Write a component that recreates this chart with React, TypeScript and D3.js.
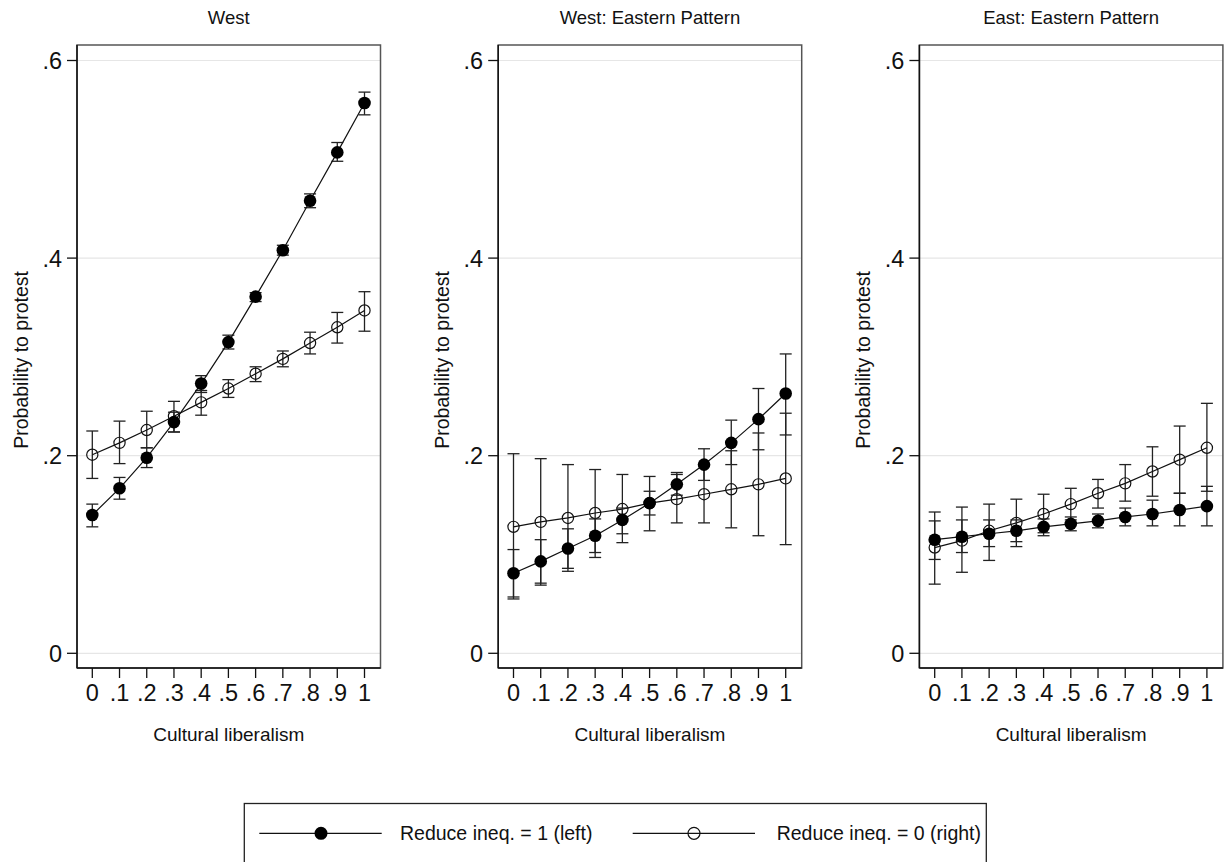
import React from "react";
import * as d3 from "d3";

const xValues = [0, 0.1, 0.2, 0.3, 0.4, 0.5, 0.6, 0.7, 0.8, 0.9, 1];
const xTickLabels = ["0", ".1", ".2", ".3", ".4", ".5", ".6", ".7", ".8", ".9", "1"];
const yTicks = [0, 0.2, 0.4, 0.6];
const yTickLabels = ["0", ".2", ".4", ".6"];
const panelTitles = ["West", "West: Eastern Pattern", "East: Eastern Pattern"];
const seriesNames = ["Reduce ineq. = 1 (left)", "Reduce ineq. = 0 (right)"];

// West
const westLeft = [0.140, 0.167, 0.198, 0.234, 0.273, 0.315, 0.361, 0.408, 0.458, 0.507, 0.557];
const westLeftLo = [0.128, 0.156, 0.188, 0.224, 0.264, 0.308, 0.356, 0.403, 0.451, 0.498, 0.545];
const westLeftHi = [0.151, 0.178, 0.208, 0.244, 0.281, 0.322, 0.365, 0.413, 0.465, 0.517, 0.568];
const westRight = [0.201, 0.213, 0.226, 0.240, 0.254, 0.268, 0.283, 0.298, 0.314, 0.330, 0.347];
const westRightLo = [0.177, 0.192, 0.208, 0.224, 0.241, 0.259, 0.275, 0.290, 0.303, 0.314, 0.326];
const westRightHi = [0.225, 0.235, 0.245, 0.255, 0.266, 0.277, 0.290, 0.306, 0.325, 0.345, 0.366];

// West: Eastern Pattern
const wepLeft = [0.081, 0.093, 0.106, 0.119, 0.135, 0.152, 0.171, 0.191, 0.213, 0.237, 0.263];
const wepLeftLo = [0.057, 0.071, 0.086, 0.102, 0.121, 0.140, 0.160, 0.175, 0.191, 0.206, 0.221];
const wepLeftHi = [0.105, 0.115, 0.126, 0.136, 0.147, 0.164, 0.183, 0.207, 0.236, 0.268, 0.303];
const wepRight = [0.128, 0.133, 0.137, 0.142, 0.146, 0.152, 0.156, 0.161, 0.166, 0.171, 0.177];
const wepRightLo = [0.055, 0.069, 0.083, 0.097, 0.112, 0.124, 0.132, 0.132, 0.127, 0.119, 0.110];
const wepRightHi = [0.202, 0.197, 0.191, 0.186, 0.181, 0.179, 0.181, 0.190, 0.205, 0.223, 0.243];

// East: Eastern Pattern
const eepLeft = [0.115, 0.118, 0.121, 0.124, 0.128, 0.131, 0.134, 0.138, 0.141, 0.145, 0.149];
const eepLeftLo = [0.095, 0.102, 0.108, 0.113, 0.119, 0.124, 0.127, 0.129, 0.129, 0.129, 0.129];
const eepLeftHi = [0.134, 0.135, 0.135, 0.135, 0.136, 0.138, 0.141, 0.147, 0.155, 0.162, 0.169];
const eepRight = [0.107, 0.114, 0.124, 0.132, 0.141, 0.151, 0.162, 0.172, 0.184, 0.196, 0.208];
const eepRightLo = [0.070, 0.082, 0.094, 0.108, 0.122, 0.135, 0.147, 0.154, 0.159, 0.162, 0.164];
const eepRightHi = [0.143, 0.148, 0.151, 0.156, 0.161, 0.167, 0.176, 0.191, 0.209, 0.230, 0.253];

const panels = [
  { title: panelTitles[0], left: [westLeft, westLeftLo, westLeftHi], right: [westRight, westRightLo, westRightHi] },
  { title: panelTitles[1], left: [wepLeft, wepLeftLo, wepLeftHi], right: [wepRight, wepRightLo, wepRightHi] },
  { title: panelTitles[2], left: [eepLeft, eepLeftLo, eepLeftHi], right: [eepRight, eepRightLo, eepRightHi] },
];

const FONT = "'Liberation Sans', Arial, Helvetica, sans-serif";
const BOX_W = 303.5;
const BOX_TOP = 45;
const BOX_BOTTOM = 668;
const PANEL_STEP = 421.2;
const FIRST_LEFT = 77;

const yScale = d3.scaleLinear().domain([0, 0.6]).range([653.3, 60.5]);

function Panel({ p, i }: { p: any; i: number }) {
  const left = FIRST_LEFT + i * PANEL_STEP;
  const right = left + BOX_W;
  const x = d3.scaleLinear().domain([0, 1]).range([left + 15.3, right - 16]);
  const line = d3
    .line<number>()
    .x((_, k) => x(xValues[k]))
    .y((v) => yScale(v));
  const cap = 6;
  const series = [
    { vals: p.right, filled: false },
    { vals: p.left, filled: true },
  ];
  return (
    <g>
      <text x={(left + right) / 2} y={24} textAnchor="middle" fontFamily={FONT} fontSize={18.5} fill="#111">
        {p.title}
      </text>
      {yTicks.map((t) => (
        <line key={t} x1={left} x2={right} y1={yScale(t)} y2={yScale(t)} stroke="#e6e6e6" strokeWidth={1.2} />
      ))}
      <rect x={left} y={BOX_TOP} width={BOX_W} height={BOX_BOTTOM - BOX_TOP} fill="none" stroke="#555" strokeWidth={1.5} />
      <line x1={left} x2={left} y1={BOX_TOP} y2={BOX_BOTTOM} stroke="#111" strokeWidth={1.5} />
      <line x1={left} x2={right} y1={BOX_BOTTOM} y2={BOX_BOTTOM} stroke="#111" strokeWidth={1.5} />
      {yTicks.map((t, k) => (
        <g key={"yt" + t}>
          <line x1={left - 10} x2={left} y1={yScale(t)} y2={yScale(t)} stroke="#111" strokeWidth={1.3} />
          <text x={left - 15} y={yScale(t)} dy="0.36em" textAnchor="end" fontFamily={FONT} fontSize={23.5} fill="#111">
            {yTickLabels[k]}
          </text>
        </g>
      ))}
      {xValues.map((v, k) => (
        <g key={"xt" + k}>
          <line x1={x(v)} x2={x(v)} y1={BOX_BOTTOM} y2={BOX_BOTTOM + 10} stroke="#111" strokeWidth={1.3} />
          <text x={x(v)} y={701} textAnchor="middle" fontFamily={FONT} fontSize={23.5} fill="#111">
            {xTickLabels[k]}
          </text>
        </g>
      ))}
      <text x={(left + right) / 2} y={741} textAnchor="middle" fontFamily={FONT} fontSize={19} fill="#111">
        Cultural liberalism
      </text>
      <text
        transform={`translate(${left - 49},${yScale(0.3) + 3}) rotate(-90)`}
        textAnchor="middle"
        fontFamily={FONT}
        fontSize={19.5}
        fill="#111"
      >
        Probability to protest
      </text>
      {series.map((s, si) => (
        <g key={"s" + si}>
          {xValues.map((v, k) => (
            <g key={"e" + k} stroke="#222" strokeWidth={1.3}>
              <line x1={x(v)} x2={x(v)} y1={yScale(s.vals[1][k])} y2={yScale(s.vals[2][k])} />
              <line x1={x(v) - cap} x2={x(v) + cap} y1={yScale(s.vals[1][k])} y2={yScale(s.vals[1][k])} />
              <line x1={x(v) - cap} x2={x(v) + cap} y1={yScale(s.vals[2][k])} y2={yScale(s.vals[2][k])} />
            </g>
          ))}
          <path d={line(s.vals[0]) || ""} fill="none" stroke="#111" strokeWidth={1.2} />
          {xValues.map((v, k) =>
            s.filled ? (
              <circle key={"m" + k} cx={x(v)} cy={yScale(s.vals[0][k])} r={6.3} fill="#000" />
            ) : (
              <circle key={"m" + k} cx={x(v)} cy={yScale(s.vals[0][k])} r={5.6} fill="none" stroke="#111" strokeWidth={1.2} />
            )
          )}
        </g>
      ))}
    </g>
  );
}

export default function App() {
  return (
    <svg
      width={1224}
      height={862}
      style={{ position: "absolute", left: 0, top: 0, background: "#fff" }}
    >
      <rect x={0} y={0} width={1224} height={862} fill="#fff" />
      {panels.map((p, i) => (
        <Panel key={i} p={p} i={i} />
      ))}
      <g>
        <rect x={244.3} y={803.5} width={742} height={62} fill="none" stroke="#222" strokeWidth={1.3} />
        <line x1={259.3} x2={381.7} y1={833.3} y2={833.3} stroke="#111" strokeWidth={1.2} />
        <circle cx={321} cy={833.3} r={6.5} fill="#000" />
        <text x={400} y={840} fontFamily={FONT} fontSize={19.5} fill="#111">
          {seriesNames[0]}
        </text>
        <line x1={632.7} x2={755} y1={833.3} y2={833.3} stroke="#111" strokeWidth={1.2} />
        <circle cx={694} cy={833.3} r={6} fill="none" stroke="#111" strokeWidth={1.2} />
        <text x={776.7} y={840} fontFamily={FONT} fontSize={19.5} fill="#111">
          {seriesNames[1]}
        </text>
      </g>
    </svg>
  );
}
